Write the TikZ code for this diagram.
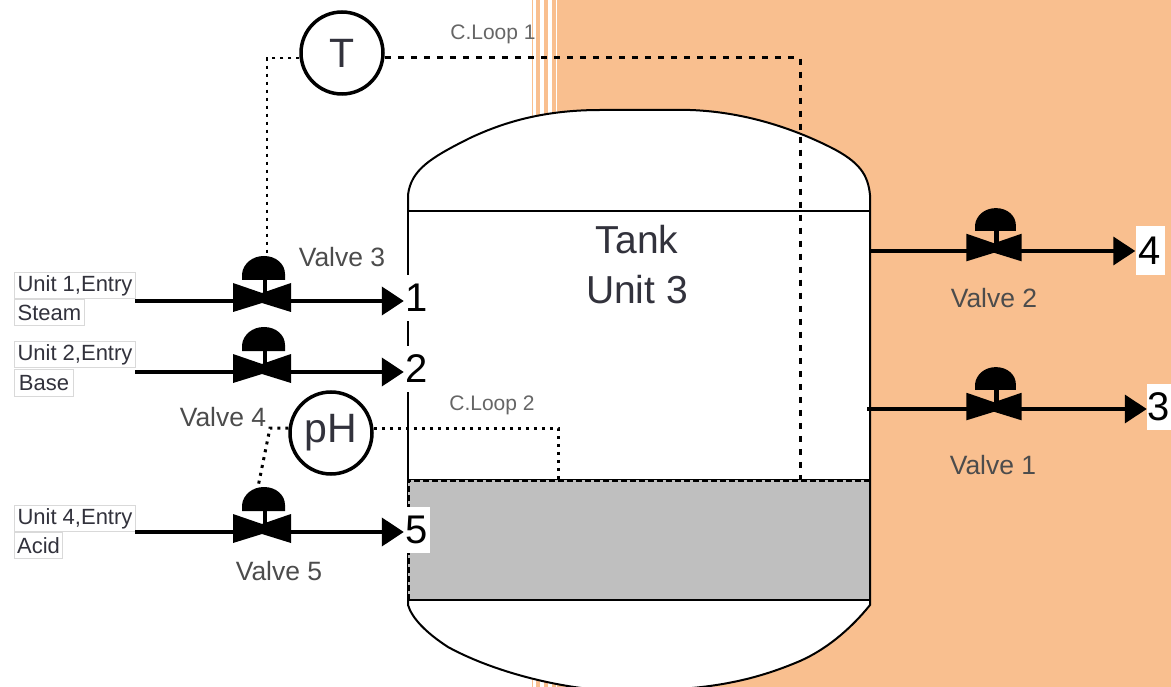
\documentclass[tikz,border=0pt]{standalone}
\usepackage{fontspec}
\setmainfont{Liberation Sans}
\usetikzlibrary{arrows.meta, positioning}
\definecolor{peach}{RGB}{249,191,143}
\definecolor{tanktext}{RGB}{50,50,60}

\begin{document}
\begin{tikzpicture}[
    x=1pt, y=-1pt,
    body/.style={draw, line width=2pt, fill=white, minimum width=462pt, minimum height=269pt, inner sep=0pt},
    liquid/.style={fill=black!25, minimum width=462pt, minimum height=120pt, inner sep=0pt},
    instr/.style={draw, circle, line width=3.5pt, fill=white, minimum size=82pt, inner sep=0pt, text=tanktext, font=\fontsize{41}{43}\selectfont},
    valve/.style={inner sep=0pt, minimum size=1pt},
    unit/.style={draw=black!15, line width=1pt, fill=white, anchor=north west, inner sep=0pt, minimum height=26pt, text=tanktext, font=\fontsize{22}{24}\selectfont},
    port/.style={fill=white, inner sep=0pt, minimum width=26pt, minimum height=46pt, text=black, font=\fontsize{40}{42}\selectfont},
    tag/.style={text=black!70, font=\fontsize{26.5}{28}\selectfont},
    loop/.style={text=black!60, font=\fontsize{21}{23}\selectfont},
    arrow/.style={-{Triangle[length=22pt, width=28pt]}, line width=4pt},
    signal/.style={line width=3pt, dash pattern=on 3pt off 5pt}
]
\useasboundingbox (0,0) rectangle (1171,687);
\clip (0,0) rectangle (1171,687);

% background
\fill[peach] (557,0) rectangle (1171,687);
\fill[peach] (531.5,0) rectangle (532.5,687);
\foreach \x in {536,544,552}
    \fill[peach] (\x,0) rectangle (\x+4,687);

% tank
\draw[line width=2pt, fill=white] (408,210) -- (408,195) .. controls (411,170) and (430,158) .. (470,138)
    .. controls (500,124) and (540,110) .. (600,110) -- (690,110)
    .. controls (750,112) and (800,132) .. (830,147)
    .. controls (860,162) and (868,175) .. (870,195) -- (870,605)
    .. controls (850,630) and (825,650) .. (800,661)
    .. controls (760,678) and (720,688) .. (660,690) -- (600,690)
    .. controls (550,686) and (490,670) .. (448,647)
    .. controls (425,632) and (412,618) .. (408,605) -- cycle;
\node[body] (tank) at (639,345.5) {};
\node[liquid] (acid) at (639,540) {};
\draw[line width=3pt, dash pattern=on 6pt off 3pt] (408,600) -- (408,480) -- (870,480);
\draw[line width=2pt] (408,600) -- (870,600);
\draw[line width=2pt] (408,480) -- (408,210) (870,210) -- (870,605);

\node[text=tanktext, align=center, font=\fontsize{39}{50}\selectfont] (title) at (637,265) {Tank\\Unit 3};

% controllers
\node[instr] (temp) at (342,53) {T};
\node[instr] (ph) at (331,433) {pH};
\coordinate (valve3top) at (267,255);
\coordinate (valve5top) at (258,487);
\coordinate (level1) at (800,480);
\coordinate (level2) at (558,480);
\draw[signal, line width=2.5pt] (temp.west |- 0,58) -| (valve3top);
\draw[signal, dash pattern=on 6pt off 7pt] (temp.east |- 0,58) -| (level1);
\draw[signal] (ph.east |- 0,428) -| (level2);
\draw[signal] (ph.west |- 0,428) -- (270,428) -- (valve5top);

\node[loop] (loop1) at (493,34) {C.Loop 1};
\node[loop] (loop2) at (492,405) {C.Loop 2};

% feeds
\node[unit, minimum width=121pt] (unit1) at (14,272) {Unit 1,Entry};
\node[unit, minimum width=70pt, below=0pt of unit1.south west, anchor=north west] (steam) {Steam};
\node[unit, minimum width=121pt] (unit2) at (14,341) {Unit 2,Entry};
\node[unit, minimum width=59pt, minimum height=27pt, below=1pt of unit2.south west, anchor=north west] (base) {Base};
\node[unit, minimum width=121pt] (unit4) at (14,505) {Unit 4,Entry};
\node[unit, minimum width=48pt, below=0pt of unit4.south west, anchor=north west] (acidfeed) {Acid};

\node[port] (port1) at (417,298) {1};
\node[port] (port2) at (417,369) {2};
\node[port] (port5) at (417,530) {5};
\node[port, minimum width=29pt, minimum height=49pt] (port4) at (1150,251) {4};
\node[port, minimum width=24pt] (port3) at (1159,407) {3};

\node[valve] (valve3) at (262,298) {};
\node[valve] (valve4) at (262,369) {};
\node[valve] (valve5) at (262,529) {};
\node[valve] (valve2) at (994,248) {};
\node[valve] (valve1) at (994,407) {};

\coordinate (in1) at (135,301);
\coordinate (in2) at (135,372);
\coordinate (in5) at (135,532);
\coordinate (out2) at (870,251);
\coordinate (out1) at (867,409);
\draw[arrow] (in1) -- (in1 -| port1.west);
\draw[arrow] (in2) -- (in2 -| port2.west);
\draw[arrow] (in5) -- (in5 -| port5.west);
\draw[arrow, line width=3.5pt] (out2) -- (out2 -| port4.west);
\draw[arrow, line width=3.5pt] (out1) -- (out1 -| port3.west);

\foreach \v/\s in {valve1/0.95, valve2/0.95, valve3/1, valve4/1, valve5/1} {
    \fill[shift={(\v)}, scale=\s] (-29,-15) -- (0,-5) -- (29,-15) -- (29,14) -- (0,5) -- (-29,14) -- cycle;
    \fill[shift={(\v)}, scale=\s] (0.5,-20) rectangle (5,2);
    \fill[shift={(\v)}, scale=\s] (-20,-18) -- (-20,-24) .. controls (-19,-34) and (-10,-42) .. (2,-42)
        .. controls (14,-42) and (23,-34) .. (23,-24) -- (23,-18) -- cycle;
}

\node[tag] (tag3) at (342,257) {Valve 3};
\node[tag] (tag4) at (223,417) {Valve 4};
\node[tag] (tag5) at (279,571) {Valve 5};
\node[tag] (tag2) at (994,298) {Valve 2};
\node[tag] (tag1) at (993,465) {Valve 1};
\end{tikzpicture}
\end{document}
